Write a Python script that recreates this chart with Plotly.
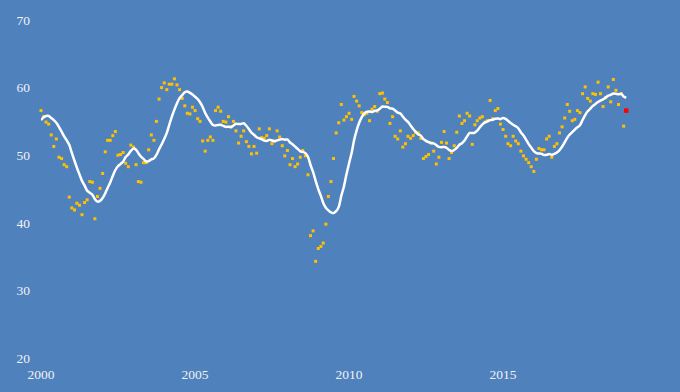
import plotly.graph_objects as go

# ---- data ----
start_year = 2000
pmi = [
    # 2000
    56.6, 55.7, 54.9, 54.6, 53.0, 51.3, 52.4, 49.7, 49.5, 48.6, 48.3, 43.8,
    # 2001
    42.2, 41.9, 42.9, 42.6, 41.2, 43.0, 43.4, 46.1, 46.0, 40.6, 43.9, 45.1,
    # 2002
    47.3, 50.5, 52.2, 52.2, 52.9, 53.5, 50.0, 50.1, 50.4, 48.8, 48.3, 51.5,
    # 2003
    51.2, 48.6, 46.1, 46.0, 48.9, 48.9, 50.8, 53.0, 52.2, 55.0, 58.3, 60.0,
    # 2004
    60.7, 59.7, 60.5, 60.5, 61.3, 60.4, 59.7, 58.4, 57.3, 56.2, 56.1, 57.1,
    # 2005
    56.6, 55.4, 55.0, 52.1, 50.6, 52.2, 52.7, 52.2, 56.6, 57.1, 56.5, 55.0,
    # 2006
    54.9, 55.7, 54.2, 55.0, 53.6, 51.8, 52.8, 53.6, 52.0, 51.3, 50.2, 51.3,
    # 2007
    50.3, 53.9, 52.6, 52.5, 52.9, 53.9, 51.7, 52.1, 53.6, 52.7, 51.4, 49.9,
    # 2008
    50.7, 48.6, 49.5, 48.3, 48.7, 49.7, 50.7, 49.9, 47.1, 38.1, 38.8, 34.3,
    # 2009
    36.2, 36.5, 37.0, 39.8, 43.9, 46.1, 49.5, 53.3, 54.8, 57.5, 55.2, 55.7,
    # 2010
    56.2, 55.3, 58.7, 58.0, 57.3, 56.3, 56.0, 56.2, 55.1, 56.8, 57.2, 56.5,
    # 2011
    59.1, 59.2, 58.3, 57.8, 54.7, 55.7, 52.8, 52.4, 53.6, 51.2, 51.7, 52.8,
    # 2012
    52.5, 52.9, 53.4, 53.3, 52.5, 49.5, 49.8, 50.1, 51.8, 50.6, 48.7, 49.7,
    # 2013
    51.9, 53.5, 51.8, 49.5, 50.4, 51.4, 53.4, 55.8, 54.7, 55.1, 56.2, 55.8,
    # 2014
    51.6, 54.5, 55.1, 55.5, 55.7, 54.9, 55.1, 58.1, 55.4, 56.6, 56.9, 54.6,
    # 2015
    53.8, 52.8, 51.7, 51.4, 52.8, 52.1, 51.7, 50.6, 49.9, 49.4, 48.9, 48.3,
    # 2016
    47.6, 49.4, 51.0, 50.8, 50.8, 52.4, 52.8, 49.7, 51.3, 51.7, 53.3, 54.2,
    # 2017
    55.5, 57.5, 56.5, 55.1, 55.3, 56.6, 56.3, 59.1, 60.1, 58.4, 58.0, 59.1,
    # 2018
    59.0, 60.8, 59.1, 57.2, 58.5, 60.1, 57.9, 61.2, 59.6, 57.5, 59.1, 54.3,
]

# smoothed trend line (white), Jan 2000 .. Jan 2019
trend = [
    55.2, 55.6, 55.8, 55.8, 55.5, 55.2, 54.8, 54.2, 53.5, 52.8, 52.2, 51.53,
    50.33, 49.18, 48.18, 47.18, 46.20, 45.51, 44.76, 44.46, 44.17, 43.50, 43.13, 43.24,
    43.67, 44.38, 45.16, 45.96, 46.93, 47.81, 48.36, 48.69, 49.06, 49.74, 50.11, 50.64,
    50.97, 50.81, 50.30, 49.78, 49.45, 49.07, 49.13, 49.38, 49.53, 50.04, 50.88, 51.58,
    52.38, 53.30, 54.50, 55.71, 56.74, 57.70, 58.44, 58.89, 59.32, 59.42, 59.23, 58.99,
    58.65, 58.29, 57.83, 57.13, 56.24, 55.56, 54.98, 54.46, 54.40, 54.48, 54.51, 54.33,
    54.19, 54.22, 54.15, 54.39, 54.64, 54.61, 54.62, 54.73, 54.35, 53.87, 53.34, 53.03,
    52.65, 52.50, 52.37, 52.16, 52.10, 52.28, 52.18, 52.06, 52.19, 52.31, 52.41, 52.29,
    52.33, 51.88, 51.63, 51.28, 50.93, 50.58, 50.49, 50.31, 49.77, 48.55, 47.50, 46.20,
    44.99, 43.98, 42.94, 42.23, 41.83, 41.53, 41.43, 41.72, 42.36, 43.98, 45.34, 47.13,
    48.79, 50.36, 52.17, 53.68, 54.80, 55.65, 56.19, 56.43, 56.46, 56.40, 56.57, 56.63,
    56.88, 57.20, 57.17, 57.15, 56.93, 56.88, 56.62, 56.30, 56.18, 55.71, 55.25, 54.94,
    54.39, 53.87, 53.46, 53.08, 52.90, 52.38, 52.13, 51.94, 51.79, 51.74, 51.49, 51.23,
    51.18, 51.23, 51.10, 50.78, 50.61, 50.77, 51.07, 51.54, 51.78, 52.16, 52.78, 53.29,
    53.27, 53.35, 53.63, 54.13, 54.57, 54.86, 55.00, 55.19, 55.25, 55.38, 55.43, 55.33,
    55.52, 55.38, 55.09, 54.75, 54.51, 54.28, 53.99, 53.37, 52.91, 52.31, 51.64, 51.12,
    50.60, 50.32, 50.26, 50.21, 50.04, 50.07, 50.16, 50.08, 50.20, 50.39, 50.76, 51.25,
    51.91, 52.58, 53.04, 53.40, 53.78, 54.13, 54.42, 55.20, 55.93, 56.49, 56.88, 57.29,
    57.58, 57.86, 58.08, 58.25, 58.52, 58.81, 58.94, 59.12, 59.08, 59.00, 59.09, 58.69,
    58.49,
]

latest_date = ["2019-01-01"]
latest_value = [56.6]

y_ticks = [20, 30, 40, 50, 60, 70]
x_ticks = ["2000-01-01", "2005-01-01", "2010-01-01", "2015-01-01"]
x_tick_labels = ["2000", "2005", "2010", "2015"]

# monthly date labels
def month_str(i):
    y = start_year + i // 12
    m = i % 12 + 1
    return f"{y}-{m:02d}-01"

pmi_dates = [month_str(i) for i in range(len(pmi))]
trend_dates = [month_str(i) for i in range(len(trend))]

BG = "#4F81BD"

fig = go.Figure()
fig.add_trace(go.Scatter(
    x=pmi_dates, y=pmi, mode="markers",
    marker=dict(symbol="square", size=3, color="#FFC000", line=dict(width=0)),
    showlegend=False, hoverinfo="x+y", cliponaxis=False,
))
fig.add_trace(go.Scatter(
    x=trend_dates, y=trend, mode="lines",
    line=dict(color="white", width=2.5, shape="spline", smoothing=0.6),
    showlegend=False, cliponaxis=False,
))
fig.add_trace(go.Scatter(
    x=latest_date, y=latest_value, mode="markers",
    marker=dict(symbol="square", size=4.5, color="#FF0000", line=dict(width=0)),
    showlegend=False, cliponaxis=False,
))

tick_font = dict(family="Liberation Serif, Times New Roman, serif", size=13.5, color="#F2F2F2")

fig.update_layout(
    width=680, height=392,
    margin=dict(l=41, r=10, t=20, b=34),
    paper_bgcolor=BG, plot_bgcolor=BG,
    xaxis=dict(
        type="date",
        range=["2000-01-01", "2020-06-03"],
        tickvals=x_ticks, ticktext=x_tick_labels,
        showgrid=False, zeroline=False, showline=False,
        ticks="", ticklabelstandoff=6,
        tickfont=tick_font,
    ),
    yaxis=dict(
        range=[20, 70],
        tickvals=y_ticks,
        showgrid=False, zeroline=False, showline=False,
        ticks="", ticklabelstandoff=10,
        tickfont=tick_font,
    ),
)

fig.write_html("out.html")
